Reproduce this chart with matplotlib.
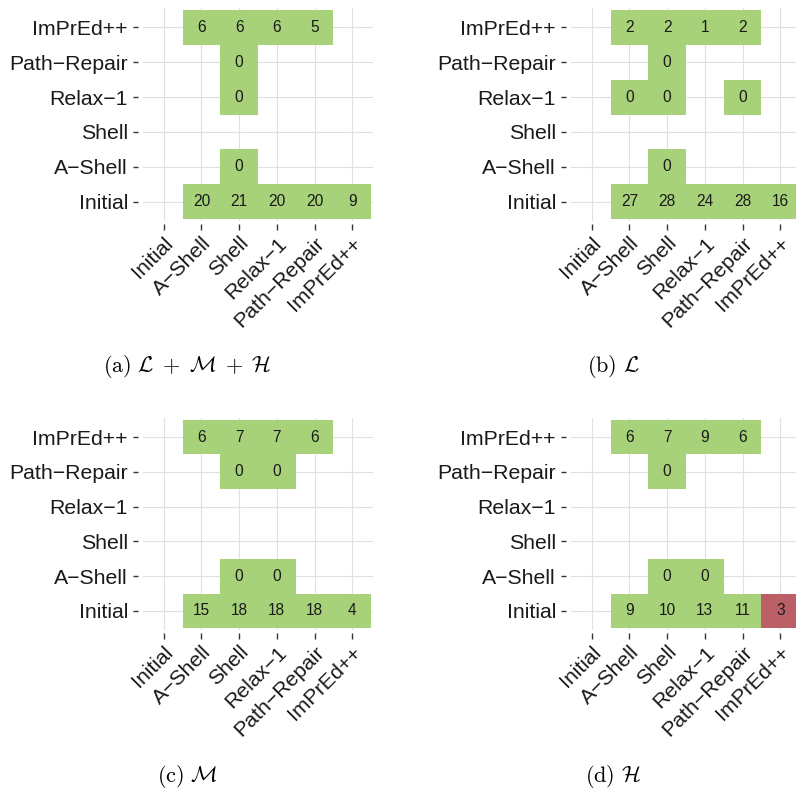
import matplotlib
matplotlib.use("Agg")
import matplotlib.pyplot as plt

# Steps of the pipeline, bottom-to-top on y and left-to-right on x
steps = ["Initial", "A-Shell", "Shell", "Relax-1", "Path-Repair", "ImPrEd++"]
step_labels = [s.replace("-", "\u2212") for s in steps]

# (a) L + M + H
a_y = ["ImPrEd++"] * 4 + ["Path-Repair", "Relax-1", "A-Shell"] + ["Initial"] * 5
a_x = ["A-Shell", "Shell", "Relax-1", "Path-Repair",
       "Shell", "Shell", "Shell",
       "A-Shell", "Shell", "Relax-1", "Path-Repair", "ImPrEd++"]
a_val = [6, 6, 6, 5, 0, 0, 0, 20, 21, 20, 20, 9]

# (b) L
b_y = (["ImPrEd++"] * 4 + ["Path-Repair"] + ["Relax-1"] * 3 + ["A-Shell"]
       + ["Initial"] * 5)
b_x = ["A-Shell", "Shell", "Relax-1", "Path-Repair",
       "Shell",
       "A-Shell", "Shell", "Path-Repair",
       "Shell",
       "A-Shell", "Shell", "Relax-1", "Path-Repair", "ImPrEd++"]
b_val = [2, 2, 1, 2, 0, 0, 0, 0, 0, 27, 28, 24, 28, 16]

# (c) M
c_y = ["ImPrEd++"] * 4 + ["Path-Repair"] * 2 + ["A-Shell"] * 2 + ["Initial"] * 5
c_x = ["A-Shell", "Shell", "Relax-1", "Path-Repair",
       "Shell", "Relax-1",
       "Shell", "Relax-1",
       "A-Shell", "Shell", "Relax-1", "Path-Repair", "ImPrEd++"]
c_val = [6, 7, 7, 6, 0, 0, 0, 0, 15, 18, 18, 18, 4]

# (d) H
d_y = ["ImPrEd++"] * 4 + ["Path-Repair"] + ["A-Shell"] * 2 + ["Initial"] * 5
d_x = ["A-Shell", "Shell", "Relax-1", "Path-Repair",
       "Shell",
       "Shell", "Relax-1",
       "A-Shell", "Shell", "Relax-1", "Path-Repair", "ImPrEd++"]
d_val = [6, 7, 9, 6, 0, 0, 0, 9, 10, 13, 11, 3]
d_worse = [("Initial", "ImPrEd++")]

captions = [
    r"$\mathrm{(a)}\ \mathcal{L}\;+\;\mathcal{M}\;+\;\mathcal{H}$",
    r"$\mathrm{(b)}\ \mathcal{L}$",
    r"$\mathrm{(c)}\ \mathcal{M}$",
    r"$\mathrm{(d)}\ \mathcal{H}$",
]

GOOD = "#A8D27A"
BAD = "#BC6068"

plt.rcParams["mathtext.fontset"] = "cm"
plt.rcParams["font.family"] = ["Liberation Sans", "DejaVu Sans"]

W, H = 796, 789
fig = plt.figure(figsize=(W / 100, H / 100), dpi=100)


def px_axes(left, top, right, bottom):
    return fig.add_axes([left / W, 1 - bottom / H, (right - left) / W, (bottom - top) / H])


def draw_panel(ax, ys, xs, vals, worse=()):
    # spines first: moving them resets the tick objects
    for side in ax.spines:
        ax.spines[side].set_visible(False)
    ax.spines["left"].set_position(("outward", 3.6))
    ax.spines["bottom"].set_position(("outward", 2.2))

    xi = [steps.index(x) for x in xs]
    yi = [steps.index(y) for y in ys]
    colors = [BAD if (y, x) in worse else GOOD for y, x in zip(ys, xs)]
    ax.bar(xi, [1] * len(xi), bottom=[v - 0.5 for v in yi], width=1.0,
           color=colors, linewidth=0, zorder=2)
    for x, y, v in zip(xi, yi, vals):
        ax.text(x, y, str(v), ha="center", va="center", fontsize=11.2,
                color="#1a1a1a", zorder=3)

    ax.set_xlim(-0.55, 5.55)
    ax.set_ylim(-0.55, 5.55)
    ax.set_xticks(range(len(steps)))
    ax.set_yticks(range(len(steps)))
    ax.set_xticklabels(step_labels, rotation=45, ha="right", va="top",
                       rotation_mode="anchor", fontsize=15.3, color="#1a1a1a")
    ax.set_yticklabels(step_labels, fontsize=15.3, color="#1a1a1a")
    ax.grid(True, color="#E0E0E0", linewidth=0.8, zorder=0)
    ax.set_axisbelow(True)
    ax.tick_params(axis="y", length=3.6, width=1.0, color="#333333", pad=3.6)
    ax.tick_params(axis="x", length=4.3, width=1.0, color="#333333", pad=2.5)


ax_a = px_axes(143, 8, 373, 221)
ax_b = px_axes(571, 8, 801, 221)
ax_c = px_axes(143, 418, 373, 630)
ax_d = px_axes(571, 418, 801, 630)

draw_panel(ax_a, a_y, a_x, a_val)
draw_panel(ax_b, b_y, b_x, b_val)
draw_panel(ax_c, c_y, c_x, c_val)
draw_panel(ax_d, d_y, d_x, d_val, d_worse)

caption_pos = [(187, 366), (613, 366), (187, 776), (613, 776)]
for (cx, cy), cap in zip(caption_pos, captions):
    fig.text(cx / W, 1 - cy / H, cap, ha="center", va="center", fontsize=16)

fig.savefig("out.png", dpi=100)
